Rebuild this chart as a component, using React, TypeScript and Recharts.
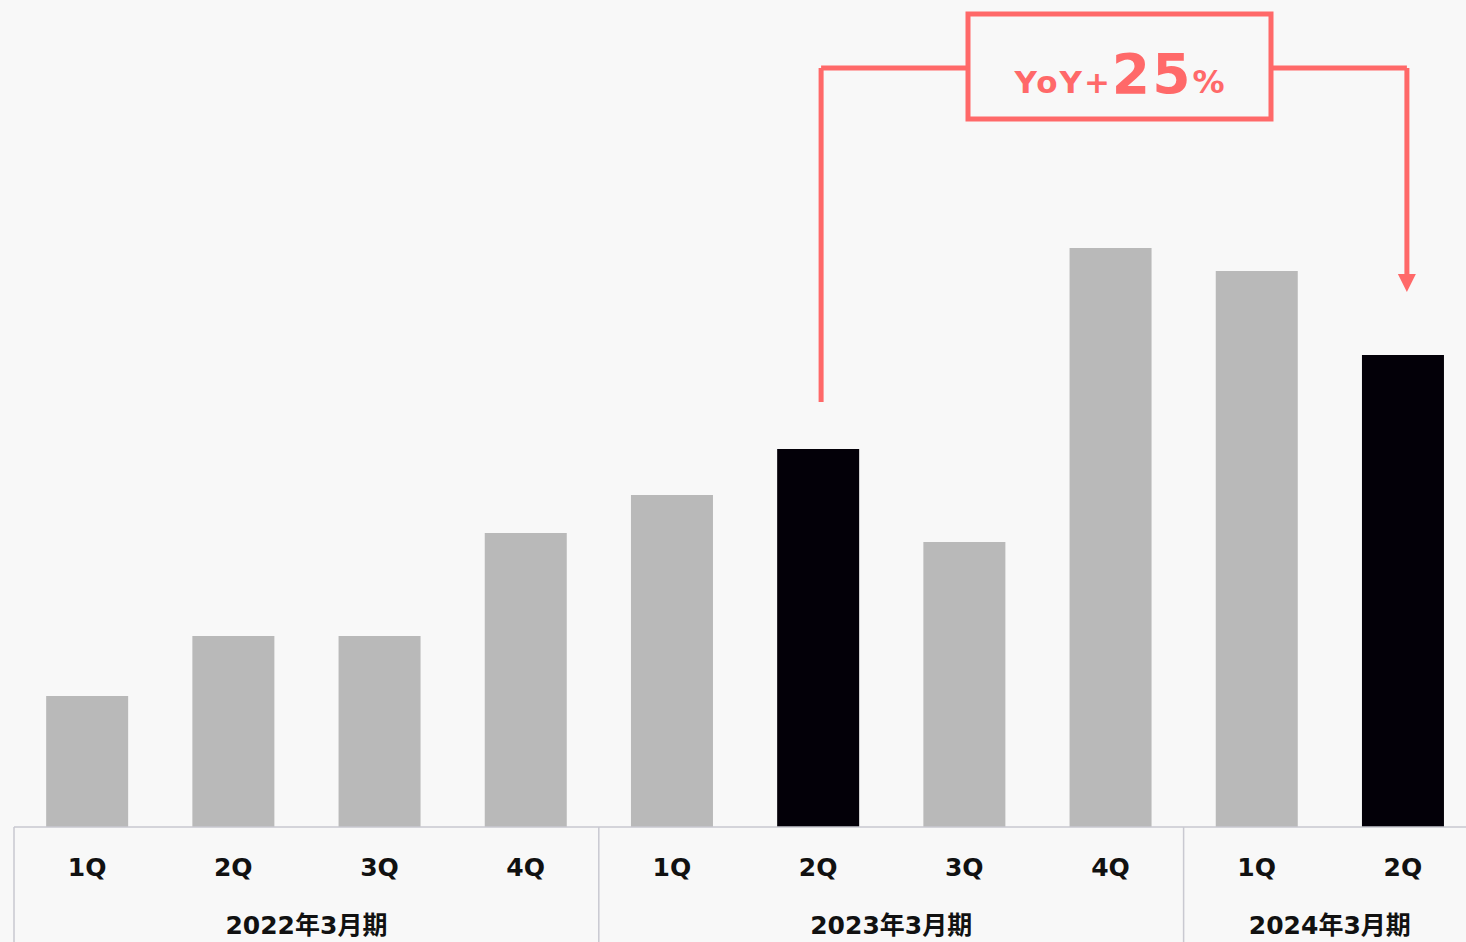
import React from 'react';
import {
  BarChart,
  Bar,
  Cell,
  XAxis,
  YAxis,
  ReferenceLine,
} from 'recharts';

const quarters = ['1Q', '2Q', '3Q', '4Q', '1Q', '2Q', '3Q', '4Q', '1Q', '2Q'];
const fiscalYears = [
  '2022年3月期', '2022年3月期', '2022年3月期', '2022年3月期',
  '2023年3月期', '2023年3月期', '2023年3月期', '2023年3月期',
  '2024年3月期', '2024年3月期',
];
const values = [131, 191, 191, 294, 332, 378, 285, 579, 556, 472];

// the pair being compared year over year
const compareFrom = 5;
const compareTo = 9;

const data = quarters.map((q, i) => ({
  key: `${fiscalYears[i]} ${q}`,
  quarter: q,
  fy: fiscalYears[i],
  value: values[i],
}));

const yoy = Math.round((values[compareTo] / values[compareFrom] - 1) * 100);

const BG = '#f8f8f8';
const GREY = '#b9b9b9';
const DARK = '#030008';
const RED = '#ff6969';
const AXIS = '#c9c9d1';
const FONT = '"DejaVu Sans", "Noto Sans CJK JP", sans-serif';

// bracket heights, in value units
const bracketTop = 759;
const leftStart = values[compareFrom] + 47;
const arrowTip = values[compareTo] + 63;

function QuarterTick(props: any) {
  const { x, y, payload } = props;
  const step = props.width ? props.width / data.length : 146.2;
  const i = data.findIndex((d) => d.key === payload.value);
  if (i < 0) return null;
  const d = data[i];
  const first = i === 0 || data[i - 1].fy !== d.fy;
  const count = data.filter((e) => e.fy === d.fy).length;
  const left = x - step / 2;
  return (
    <g>
      <text
        x={x}
        y={y + 49}
        textAnchor="middle"
        fontFamily={FONT}
        fontWeight="bold"
        fontSize={25}
        fill="#111"
      >
        {d.quarter}
      </text>
      {first && (
        <line x1={left} x2={left} y1={y} y2={y + 130} stroke={AXIS} strokeWidth={1.5} />
      )}
      {first && (
        <text
          x={left + (count * step) / 2}
          y={y + 107}
          textAnchor="middle"
          fontFamily={FONT}
          fontWeight="bold"
          fontSize={25}
          fill="#111"
        >
          {d.fy}
        </text>
      )}
    </g>
  );
}

const LeftLeg = (p: any) => (
  <line
    x1={p.x1 + 3}
    x2={p.x2 + 3}
    y1={p.y1}
    y2={p.y2}
    stroke={RED}
    strokeWidth={5}
  />
);

const TopBar = (p: any) => {
  const mid = (p.x1 + p.x2) / 2 + 9;
  const w = 303;
  const h = 105;
  return (
    <g>
      <line x1={p.x1 + 3} x2={p.x2 + 4} y1={p.y1} y2={p.y2} stroke={RED} strokeWidth={5} />
      <rect
        x={mid - w / 2}
        y={p.y1 - 54}
        width={w}
        height={h}
        fill={BG}
        stroke={RED}
        strokeWidth={5}
      />
      <text
        x={mid}
        y={p.y1 + 25}
        textAnchor="middle"
        fontFamily={FONT}
        fontWeight="bold"
        fill={RED}
      >
        <tspan fontSize={31} letterSpacing={2}>YoY+</tspan>
        <tspan fontSize={55} letterSpacing={2}>{yoy}</tspan>
        <tspan fontSize={32}>%</tspan>
      </text>
    </g>
  );
};

const ArrowLeg = (p: any) => {
  const x = p.x1 + 4;
  const top = Math.min(p.y1, p.y2);
  const tip = Math.max(p.y1, p.y2);
  return (
    <g>
      <line x1={x} x2={x} y1={top} y2={tip - 12} stroke={RED} strokeWidth={5} />
      <polygon points={`${x - 9},${tip - 18} ${x + 9},${tip - 18} ${x},${tip}`} fill={RED} />
    </g>
  );
};

export default function App() {
  const fromKey = data[compareFrom].key;
  const toKey = data[compareTo].key;
  return (
    <div
      style={{
        position: 'absolute',
        left: 0,
        top: 0,
        width: 1466,
        height: 942,
        overflow: 'hidden',
        background: BG,
      }}
    >
      <BarChart
        width={1476}
        height={942}
        data={data}
        margin={{ top: 27, right: 0, bottom: 0, left: 14 }}
        barCategoryGap="22%"
      >
        <YAxis hide domain={[0, 800]} />
        <XAxis
          dataKey="key"
          height={115}
          interval={0}
          tickLine={false}
          tickSize={0}
          tickMargin={0}
          axisLine={{ stroke: AXIS, strokeWidth: 1.5 }}
          tick={<QuarterTick />}
        />
        <Bar dataKey="value" isAnimationActive={false}>
          {data.map((d, i) => (
            <Cell
              key={d.key}
              fill={i === compareFrom || i === compareTo ? DARK : GREY}
            />
          ))}
        </Bar>
        <ReferenceLine
          segment={[
            { x: fromKey, y: leftStart },
            { x: fromKey, y: bracketTop },
          ]}
          shape={LeftLeg}
        />
        <ReferenceLine
          segment={[
            { x: fromKey, y: bracketTop },
            { x: toKey, y: bracketTop },
          ]}
          shape={TopBar}
        />
        <ReferenceLine
          segment={[
            { x: toKey, y: bracketTop },
            { x: toKey, y: arrowTip },
          ]}
          shape={ArrowLeg}
        />
      </BarChart>
    </div>
  );
}
